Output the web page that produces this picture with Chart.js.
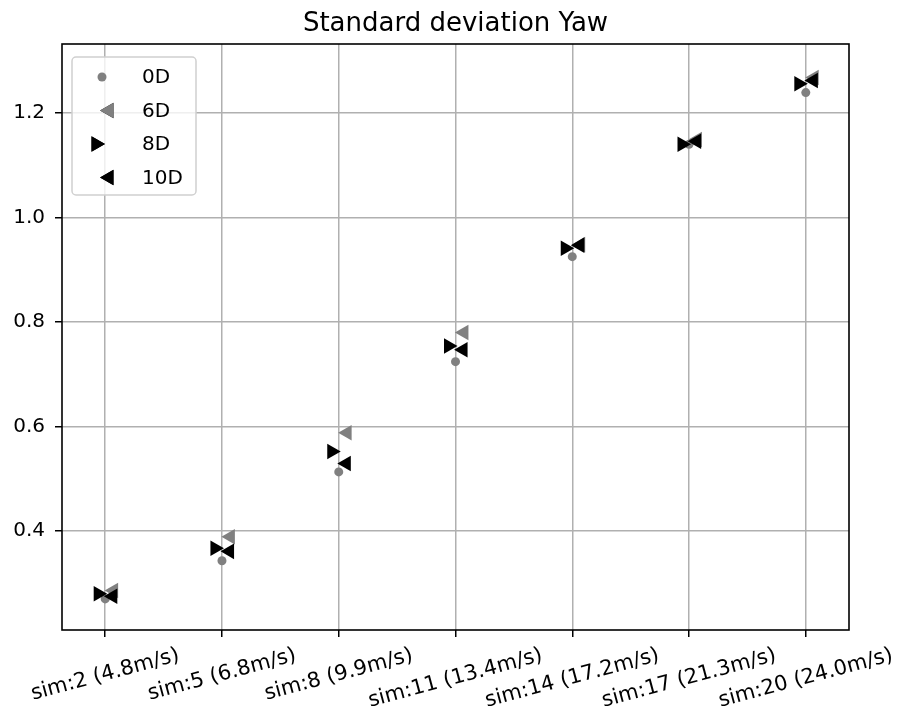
<!DOCTYPE html>
<html lang="en">
<head>
  <meta charset="UTF-8">
  <title>Standard deviation Yaw</title>
  <script src="https://cdn.jsdelivr.net/npm/chart.js"></script>
  <style>
    html, body {
      margin: 0;
      padding: 0;
      background: #fff;
    }
    .chart-box {
      width: 904px;
      height: 720px;
    }
  </style>
</head>
<body>
  <div class="chart-box">
    <canvas id="yawChart"></canvas>
  </div>

  <script>
    const chartTitle = "Standard deviation Yaw";
    const categories = ["sim:2 (4.8m/s)", "sim:5 (6.8m/s)", "sim:8 (9.9m/s)", "sim:11 (13.4m/s)",
                        "sim:14 (17.2m/s)", "sim:17 (21.3m/s)", "sim:20 (24.0m/s)"];
    const yTicks = [0.4, 0.6, 0.8, 1.0, 1.2];

    // std of yaw per simulation, one list per downstream distance
    const std0D  = [0.270, 0.343, 0.513, 0.724, 0.925, 1.140, 1.239];
    const std6D  = [0.286, 0.389, 0.588, 0.780, 0.948, 1.149, 1.268];
    const std8D  = [0.280, 0.367, 0.552, 0.754, 0.941, 1.140, 1.256];
    const std10D = [0.275, 0.361, 0.529, 0.747, 0.947, 1.146, 1.262];

    const FONT = "'DejaVu Sans', sans-serif";
    const GRAY = "#808080";

    function series(values, shift) {
      return values.map((v, i) => ({ x: i + shift, y: v }));
    }

    const datasets = [
      { label: "0D",  data: series(std0D, 0),       pointStyle: "circle",   rotation: 0,   pointRadius: 4.5, backgroundColor: GRAY,   borderColor: GRAY,   order: 4, legendShift: 0 },
      { label: "6D",  data: series(std6D, 0.072),   pointStyle: "triangle", rotation: -90, pointRadius: 9,   backgroundColor: GRAY,   borderColor: GRAY,   order: 3, legendShift: 7 },
      { label: "8D",  data: series(std8D, -0.06),   pointStyle: "triangle", rotation: 90,  pointRadius: 9,   backgroundColor: "#000", borderColor: "#000", order: 2, legendShift: -6 },
      { label: "10D", data: series(std10D, 0.065),  pointStyle: "triangle", rotation: -90, pointRadius: 9,   backgroundColor: "#000", borderColor: "#000", order: 1, legendShift: 7 }
    ];
    datasets.forEach(d => { d.showLine = false; d.borderWidth = 0; d.pointHoverRadius = d.pointRadius; });

    // title, frame, rotated category labels and the boxed legend
    const decorations = {
      id: "decorations",
      afterDraw(chart) {
        const ctx = chart.ctx;
        const area = chart.chartArea;
        const xScale = chart.scales.x;

        ctx.save();
        ctx.fillStyle = "#000";
        ctx.font = "26px " + FONT;
        ctx.textAlign = "center";
        ctx.textBaseline = "middle";
        ctx.fillText(chartTitle, (area.left + area.right) / 2, 24);

        ctx.strokeStyle = "#000";
        ctx.lineWidth = 1.6;
        ctx.strokeRect(area.left, area.top, area.right - area.left, area.bottom - area.top);

        // x labels, rotated 15 degrees and centred under their tick
        const angle = 15 * Math.PI / 180;
        ctx.font = "21px " + FONT;
        const h = 23;
        categories.forEach((label, i) => {
          const w = ctx.measureText(label).width;
          const boxH = w * Math.sin(angle) + h * Math.cos(angle);
          const cx = xScale.getPixelForValue(i);
          const cy = area.bottom + 14 + boxH / 2;
          ctx.save();
          ctx.translate(cx, cy);
          ctx.rotate(-angle);
          ctx.fillText(label, 0, 0);
          ctx.restore();
        });

        // legend box
        ctx.font = "20px " + FONT;
        const lx = area.left + 10, ly = area.top + 13, lw = 124, lh = 138;
        ctx.beginPath();
        if (ctx.roundRect) ctx.roundRect(lx, ly, lw, lh, 4); else ctx.rect(lx, ly, lw, lh);
        ctx.fillStyle = "rgba(255,255,255,0.8)";
        ctx.fill();
        ctx.strokeStyle = "#d0d0d0";
        ctx.lineWidth = 1.5;
        ctx.stroke();

        ctx.textAlign = "left";
        datasets.forEach((d, i) => {
          const y = ly + 20 + i * 33.5;
          const mx = lx + 30 + d.legendShift;
          Chart.helpers.drawPoint(ctx, {
            pointStyle: d.pointStyle,
            rotation: d.rotation,
            radius: d.pointRadius,
            borderWidth: 0
          }, mx, y);
          ctx.fillStyle = d.backgroundColor;
          ctx.fill();
          ctx.fillStyle = "#000";
          ctx.fillText(d.label, lx + 70, y + 1);
        });
        ctx.restore();
      }
    };

    const ctx1 = document.getElementById("yawChart").getContext("2d");
    new Chart(ctx1, {
      type: "scatter",
      data: { datasets },
      plugins: [decorations],
      options: {
        responsive: true,
        maintainAspectRatio: false,
        animation: false,
        layout: { padding: { left: 0, right: 55, top: 44, bottom: 0 } },
        plugins: {
          legend: { display: false },
          tooltip: { enabled: false },
          title: { display: false }
        },
        scales: {
          x: {
            type: "linear",
            min: -0.37,
            max: 6.37,
            afterBuildTicks: scale => { scale.ticks = categories.map((_, i) => ({ value: i })); },
            afterFit: scale => { scale.height = 90; },
            ticks: { display: false },
            grid: { color: "#b0b0b0", lineWidth: 1.5, tickLength: 7, tickColor: "#000", drawTicks: true },
            border: { display: false }
          },
          y: {
            min: 0.2105,
            max: 1.332,
            afterBuildTicks: scale => { scale.ticks = yTicks.map(v => ({ value: v })); },
            afterFit: scale => { scale.width = 62; },
            ticks: {
              color: "#000",
              padding: 10,
              font: { family: FONT, size: 20 },
              callback: v => v.toFixed(1)
            },
            grid: { color: "#b0b0b0", lineWidth: 1.5, tickLength: 7, tickColor: "#000" },
            border: { display: false }
          }
        }
      }
    });
  </script>
</body>
</html>
